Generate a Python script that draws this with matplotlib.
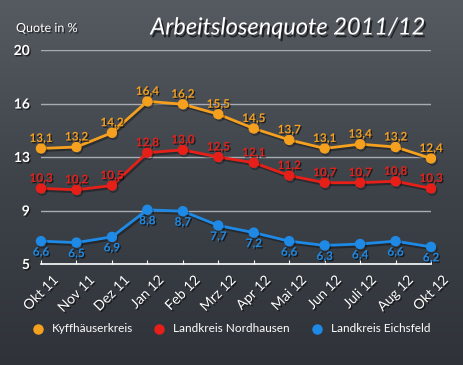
import numpy as np
import matplotlib
matplotlib.use("Agg")
import matplotlib.pyplot as plt
import matplotlib.patheffects as pe
import matplotlib.lines as mlines

# daten
monate = ["Okt 11", "Nov 11", "Dez 11", "Jan 12", "Feb 12", "Mrz 12",
          "Apr 12", "Mai 12", "Jun 12", "Juli 12", "Aug 12", "Okt 12"]
kyffhaeuser = [13.1, 13.2, 14.2, 16.4, 16.2, 15.5, 14.5, 13.7, 13.1, 13.4, 13.2, 12.4]
nordhausen = [10.3, 10.2, 10.5, 12.8, 13.0, 12.5, 12.1, 11.2, 10.7, 10.7, 10.8, 10.3]
eichsfeld = [6.6, 6.5, 6.9, 8.8, 8.7, 7.7, 7.2, 6.6, 6.3, 6.4, 6.6, 6.2]
y_labels = ["5", "9", "13", "16", "20"]

plt.rcParams["font.family"] = ["Lato", "DejaVu Sans"]

fig = plt.figure(figsize=(4.64, 3.65), dpi=100)

# tafel-hintergrund
bg = fig.add_axes([0, 0, 1, 1], zorder=-10)
grad = np.linspace(0, 1, 256).reshape(-1, 1)
cmap = matplotlib.colors.LinearSegmentedColormap.from_list("tafel", ["#565b62", "#3e434a", "#2f3339"])
bg.imshow(grad, aspect="auto", cmap=cmap, extent=[0, 1, 0, 1])
bg.axis("off")

ax = fig.add_axes([41 / 464, 1 - 264 / 365, 390 / 464, 214 / 365])
ax.set_facecolor("none")
x = np.arange(len(monate))

shadow_txt = [pe.withSimplePatchShadow(offset=(1, -1), shadow_rgbFace="black", alpha=0.6)]
shadow_line = [pe.SimpleLineShadow(offset=(1, -1.5), shadow_color="black", alpha=0.35), pe.Normal()]

serien = [
    (kyffhaeuser, "#f5a01e", "Kyffhäuserkreis", 10),
    (nordhausen, "#e62019", "Landkreis Nordhausen", 10),
    (eichsfeld, "#1e8ae6", "Landkreis Eichsfeld", -11),
]
for werte, farbe, name, off in serien:
    ax.plot(x, werte, color=farbe, lw=2, marker="o", ms=6.5, label=name,
            clip_on=False, zorder=5, path_effects=shadow_line)
    for xi, v in zip(x, werte):
        ax.annotate(f"{v:.1f}".replace(".", ","), (xi, v), xytext=(0, off),
                    textcoords="offset pixels", ha="center", va="center",
                    color=farbe, fontsize=8.5, fontweight="bold",
                    path_effects=shadow_txt, zorder=6)

ax.set_xlim(0, len(monate) - 1)
ax.set_ylim(5, 20)
yt = np.linspace(5, 20, 5)
ax.set_yticks(yt)
ax.set_yticklabels(y_labels)
for y in yt[1:]:
    ax.axhline(y, color="#a7acb3", lw=1, zorder=1)

for s in ["top", "right", "left"]:
    ax.spines[s].set_visible(False)
ax.spines["bottom"].set_color("white")
ax.spines["bottom"].set_linewidth(1.2)

ax.set_xticks(x)
ax.set_xticklabels(monate, rotation=45, ha="center")
ax.tick_params(axis="x", direction="in", length=3, color="white", pad=7,
               labelcolor="white", labelsize=10)
ax.tick_params(axis="y", length=0, pad=8, labelcolor="white", labelsize=10)
for lab in ax.get_yticklabels():
    lab.set_fontweight("bold")
    lab.set_path_effects(shadow_txt)
for lab in ax.get_xticklabels():
    lab.set_path_effects(shadow_txt)

fig.text(16 / 464, 1 - 28 / 365, "Quote in %", color="white", fontsize=9,
         va="center", ha="left", path_effects=shadow_txt)
fig.text(288 / 464, 1 - 28 / 365, "Arbeitslosenquote 2011/12", color="white",
         fontsize=17, style="italic", va="center", ha="center",
         path_effects=[pe.withSimplePatchShadow(offset=(1.5, -2), shadow_rgbFace="black", alpha=0.6)])

# legende von hand
leg_y = 1 - 329 / 365
for (werte, farbe, name, off), mx in zip(serien, [38, 159, 317]):
    fig.add_artist(mlines.Line2D([mx / 464], [leg_y], ls="none", marker="o", ms=6.5,
                                 color=farbe, transform=fig.transFigure))
    fig.text((mx + 14) / 464, leg_y, name, color="white", fontsize=8.5,
             va="center", ha="left")

fig.savefig("out.png", dpi=100)
